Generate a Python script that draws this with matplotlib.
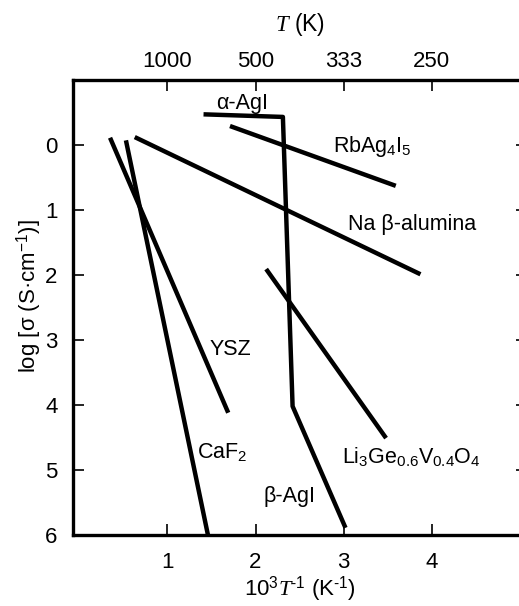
import numpy as np
import matplotlib.pyplot as plt

plt.rcParams['font.family'] = ['Liberation Sans', 'DejaVu Sans']
plt.rcParams['mathtext.fontset'] = 'custom'
plt.rcParams['mathtext.rm'] = 'Liberation Sans'
plt.rcParams['mathtext.it'] = 'Liberation Serif:italic'
plt.rcParams['mathtext.bf'] = 'Liberation Sans:bold'

# conductivity lines: x = 1000/T, y = log value (axis inverted)
agi_x = [1.41, 2.31, 2.42, 3.02]
agi_y = [-0.47, -0.43, 4.02, 5.89]
rbag_x = [1.71, 3.59]
rbag_y = [-0.29, 0.63]
nab_x = [0.63, 3.87]
nab_y = [-0.12, 1.99]
ysz_x = [0.35, 1.69]
ysz_y = [-0.11, 4.12]
caf_x = [0.53, 1.46]
caf_y = [-0.07, 6.0]
li_x = [2.12, 3.48]
li_y = [1.91, 4.51]

labels = [
    (1.85, -0.64, 'α-AgI'),
    (3.32, 0.03, 'RbAg$_4$I$_5$'),
    (3.78, 1.22, 'Na β-alumina'),
    (1.71, 3.15, 'YSZ'),
    (1.62, 4.73, 'CaF$_2$'),
    (2.39, 5.41, 'β-AgI'),
    (3.77, 4.79, 'Li$_3$Ge$_{0.6}$V$_{0.4}$O$_4$'),
]

top_temps = [1000, 500, 333, 250]
bottom_ticks = [1, 2, 3, 4]
y_ticks = [0, 1, 2, 3, 4, 5, 6]

fig = plt.figure(figsize=(5.19, 6.06), dpi=100)
ax = fig.add_axes([0.1407, 0.1172, 0.875, 0.751])

for xs, ys in [(agi_x, agi_y), (rbag_x, rbag_y), (nab_x, nab_y),
               (ysz_x, ysz_y), (caf_x, caf_y), (li_x, li_y)]:
    ax.plot(xs, ys, color='black', lw=3.2, solid_capstyle='butt')

for x, y, s in labels:
    ax.text(x, y, s, ha='center', va='center', fontsize=15.5)

ax.set_xlim(-0.07, 5.08)
ax.set_ylim(6, -1.0)
ax.set_xticks(bottom_ticks)
ax.set_yticks(y_ticks)
ax.tick_params(direction='in', length=8, width=1.2, labelsize=16,
               left=True, right=True, bottom=True, top=True)
ax.tick_params(axis='x', pad=12)
ax.tick_params(axis='y', pad=11)
for sp in ax.spines.values():
    sp.set_linewidth(2.4)

ax.set_xlabel('10$^3$$T$$^{\\text{-}1}$ (K$^{\\text{-}1}$)', fontsize=16, labelpad=1)
ax.set_ylabel('log [σ (S·cm$^{-1}$)]', fontsize=16)
ax.yaxis.set_label_coords(-0.064, 0.525)

top = ax.secondary_xaxis('top', functions=(lambda v: v, lambda v: v))
top.set_xticks([1000 / t for t in top_temps])
top.set_xticklabels([str(t) for t in top_temps])
top.tick_params(direction='in', length=0, labelsize=16, pad=6)
top.set_xlabel('$T$ (K)', fontsize=16.5, labelpad=14)
top.spines['top'].set_visible(False)

fig.savefig('out.png', dpi=100)
